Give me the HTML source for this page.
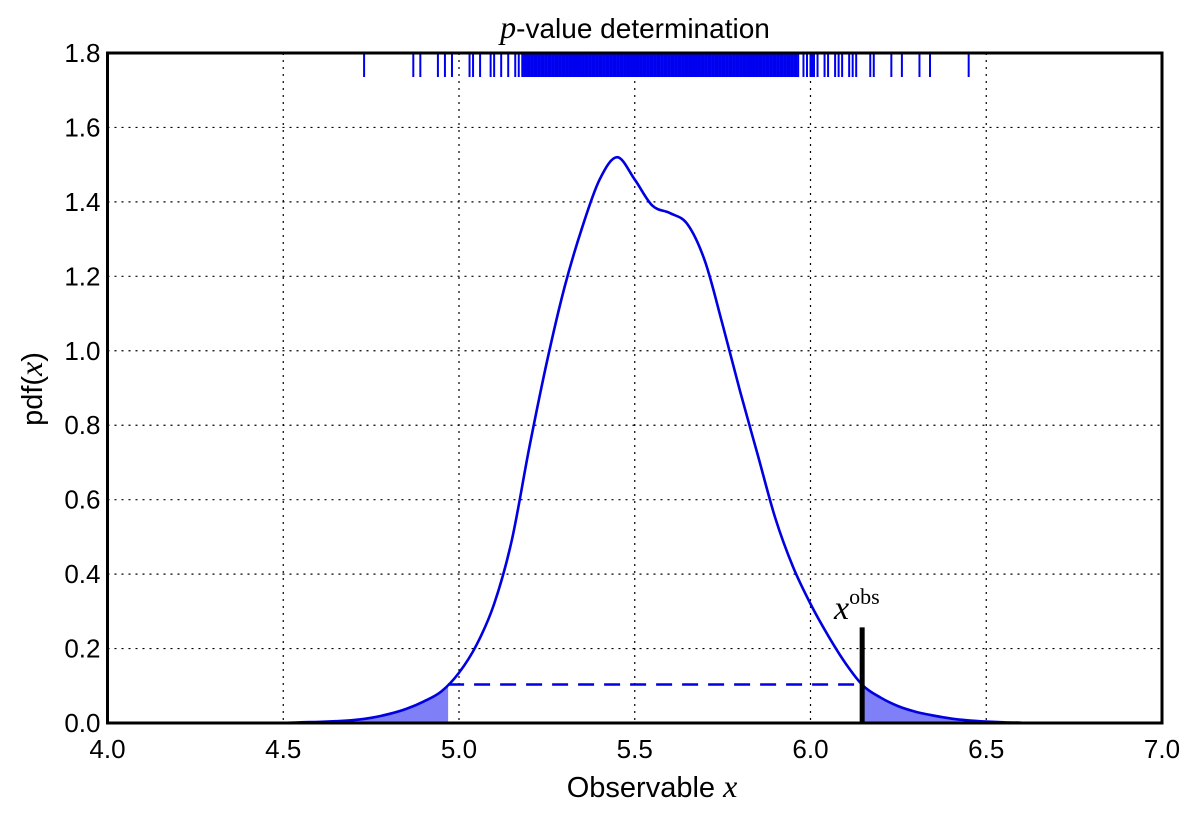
<!DOCTYPE html>
<html><head><meta charset="utf-8">
<style>
html,body{margin:0;padding:0;background:#fff;}
svg text{font-family:"Liberation Sans",sans-serif;fill:#000;}
.m{font-family:"Liberation Serif",serif;font-style:italic;}
</style></head>
<body>
<svg id="chart" width="1200" height="809" viewBox="0 0 1200 809" xmlns="http://www.w3.org/2000/svg">
<defs>
<clipPath id="clipL"><rect id="clipLr" x="0" y="0" width="0" height="809"/></clipPath>
<clipPath id="clipR"><rect id="clipRr" x="0" y="0" width="1200" height="809"/></clipPath>
</defs>
<g id="grid"></g>
<g id="fills"></g>
<g id="rug"></g>
<g id="lines"></g>
<rect x="107.5" y="53" width="1054.5" height="670" fill="none" stroke="#000" stroke-width="3"/>
<g id="ticks"></g>
<text x="635" y="38" text-anchor="middle" font-size="28"><tspan class="m" font-size="32">p</tspan>-value determination</text>
<text x="652" y="797" text-anchor="middle" font-size="29">Observable <tspan class="m" font-size="32">x</tspan></text>
<text transform="translate(42,389) rotate(-90)" text-anchor="middle" font-size="29">pdf(<tspan class="m" font-size="32">x</tspan>)</text>
<text x="834" y="619" font-size="34"><tspan class="m">x</tspan><tspan font-family="Liberation Serif" font-size="22" dy="-15">obs</tspan></text>
</svg>
<script>
const xTicks=[4.0,4.5,5.0,5.5,6.0,6.5,7.0];
const yTicks=[0.0,0.2,0.4,0.6,0.8,1.0,1.2,1.4,1.6,1.8];
const densX=[4.50,4.55,4.60,4.65,4.70,4.75,4.80,4.85,4.90,4.95,5.00,5.05,5.10,5.15,5.20,5.25,5.30,5.35,5.40,5.45,5.50,5.55,5.60,5.65,5.70,5.75,5.80,5.85,5.90,5.95,6.00,6.05,6.10,6.15,6.20,6.25,6.30,6.35,6.40,6.45,6.50,6.55,6.60];
const densY=[0,0.002,0.003,0.005,0.008,0.014,0.024,0.038,0.058,0.085,0.135,0.21,0.32,0.49,0.74,0.97,1.17,1.33,1.46,1.52,1.46,1.39,1.37,1.34,1.24,1.07,0.89,0.72,0.55,0.42,0.32,0.235,0.16,0.10,0.068,0.045,0.03,0.02,0.012,0.007,0.004,0.002,0.001];
const lowCut=4.969, obsX=6.147, obsHeight=0.257, critPdf=0.1035;
const rugX=[4.73,4.87,4.89,4.94,4.96,4.98,5.03,5.04,5.06,5.09,5.10,5.12,5.14,5.16,5.17,5.18,5.185,5.19,5.195,
5.20,5.205,5.21,5.215,5.22,5.225,5.23,5.235,5.24,5.245,5.25,5.255,5.26,5.265,5.27,5.275,5.28,5.285,5.29,5.295,
5.30,5.305,5.31,5.315,5.32,5.325,5.33,5.335,5.34,5.345,5.35,5.355,5.36,5.365,5.37,5.375,5.38,5.385,5.39,5.395,
5.40,5.405,5.41,5.415,5.42,5.425,5.43,5.435,5.44,5.445,5.45,5.455,5.46,5.465,5.47,5.475,5.48,5.485,5.49,5.495,
5.50,5.505,5.51,5.515,5.52,5.525,5.53,5.535,5.54,5.545,5.55,5.555,5.56,5.565,5.57,5.575,5.58,5.585,5.59,5.595,
5.60,5.605,5.61,5.615,5.62,5.625,5.63,5.635,5.64,5.645,5.65,5.655,5.66,5.665,5.67,5.675,5.68,5.685,5.69,5.695,
5.70,5.705,5.71,5.715,5.72,5.725,5.73,5.735,5.74,5.745,5.75,5.755,5.76,5.765,5.77,5.775,5.78,5.785,5.79,5.795,
5.80,5.805,5.81,5.815,5.82,5.825,5.83,5.835,5.84,5.845,5.85,5.855,5.86,5.865,5.87,5.875,5.88,5.885,5.89,5.895,
5.90,5.905,5.91,5.915,5.92,5.925,5.93,5.935,5.94,5.945,5.95,5.955,5.96,5.965,5.98,5.99,6.00,6.005,6.01,6.02,6.04,6.05,6.07,6.08,6.09,6.11,6.12,6.13,6.17,6.18,6.23,6.26,6.31,6.34,6.45];
const NS="http://www.w3.org/2000/svg";
const X0=107.5,X1=1162,Y0=723,Y1=53;
const sx=v=>X0+(v-4)/3*(X1-X0);
const sy=v=>Y0-v/1.8*(Y0-Y1);
function mk(t,a,p){const e=document.createElementNS(NS,t);for(const k in a)e.setAttribute(k,a[k]);p.appendChild(e);return e;}
const grid=document.getElementById('grid'),ticks=document.getElementById('ticks');
xTicks.forEach(v=>{
 if(v>4&&v<7){const l=mk('line',{x1:sx(v),x2:sx(v),y1:Y1,y2:Y0,stroke:'#000','stroke-width':1.2,'stroke-dasharray':'2 5'},grid);
 
 }
 const t=mk('text',{x:sx(v),y:Y0+35,'text-anchor':'middle','font-size':26},ticks);t.textContent=v.toFixed(1);
 
 
});
yTicks.forEach(v=>{
 if(v>0&&v<1.8){const l=mk('line',{x1:X0,x2:X1,y1:sy(v),y2:sy(v),stroke:'#000','stroke-width':1.2,'stroke-dasharray':'2 5'},grid);
 
 }
 const t=mk('text',{x:X0-7,y:sy(v)+9,'text-anchor':'end','font-size':26},ticks);t.textContent=v.toFixed(1);
 
 
});
const P=densX.map((x,i)=>[sx(x),sy(densY[i])]);
let d='M'+P[0][0]+','+P[0][1];
for(let i=0;i<P.length-1;i++){const p0=P[Math.max(0,i-1)],p1=P[i],p2=P[i+1],p3=P[Math.min(P.length-1,i+2)];
 d+=' C'+(p1[0]+(p2[0]-p0[0])/6)+','+(p1[1]+(p2[1]-p0[1])/6)+' '+(p2[0]-(p3[0]-p1[0])/6)+','+(p2[1]-(p3[1]-p1[1])/6)+' '+p2[0]+','+p2[1];}
const fillD=d+' L'+P[P.length-1][0]+','+Y0+' L'+P[0][0]+','+Y0+' Z';
document.getElementById('clipLr').setAttribute('width',sx(lowCut));
document.getElementById('clipRr').setAttribute('x',sx(obsX));
const fills=document.getElementById('fills');
const fl=mk('path',{d:fillD,fill:'#7f7ff8',stroke:'none','clip-path':'url(#clipL)'},fills);


const fr=mk('path',{d:fillD,fill:'#7f7ff8',stroke:'none','clip-path':'url(#clipR)'},fills);


const lines=document.getElementById('lines');
const dl=mk('line',{x1:sx(lowCut),x2:sx(obsX),y1:sy(critPdf),y2:sy(critPdf),stroke:'#0000e0','stroke-width':2.5,'stroke-dasharray':'16 10'},lines);


const cv=mk('path',{d:d,fill:'none',stroke:'#0000e0','stroke-width':2.6},lines);


const ob=mk('line',{x1:sx(obsX),x2:sx(obsX),y1:sy(0),y2:sy(obsHeight),stroke:'#000','stroke-width':5},lines);


const rug=document.getElementById('rug');
rugX.forEach(v=>{const l=mk('line',{x1:sx(v),x2:sx(v),y1:Y1,y2:Y1+24,stroke:'#0000f0','stroke-width':2},rug);
 
 });
</script>
</body></html>
